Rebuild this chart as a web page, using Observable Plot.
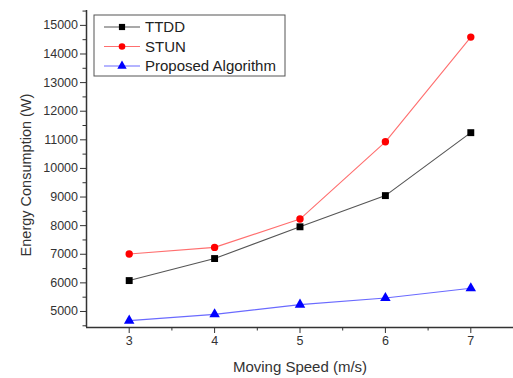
<!DOCTYPE html>
<html><head><meta charset="utf-8">
<script src="https://cdn.jsdelivr.net/npm/d3@7"></script>
<script src="https://cdn.jsdelivr.net/npm/@observablehq/plot@0.6"></script>
<style>
body{margin:0;background:#fff;}
#chart svg{font-family:"Liberation Sans",Arial,sans-serif;}
</style></head>
<body><div id="chart"></div>
<script>
const speeds = [3, 4, 5, 6, 7];
const ttdd = [6080, 6850, 7960, 9050, 11250];
const stun = [7010, 7240, 8230, 10930, 14590];
const proposed = [4680, 4900, 5240, 5470, 5810];
const seriesNames = ["TTDD", "STUN", "Proposed Algorithm"];
const yMajor = [5000, 6000, 7000, 8000, 9000, 10000, 11000, 12000, 13000, 14000, 15000];
const yMinor = [4500, 5500, 6500, 7500, 8500, 9500, 10500, 11500, 12500, 13500, 14500, 15500];
const xMajor = [3, 4, 5, 6, 7];
const xMinor = [3.5, 4.5, 5.5, 6.5, 7.5];
const xLabel = "Moving Speed (m/s)";
const yLabel = "Energy Consumption (W)";

const styles = [
  {line: "#555", fill: "#000", symbol: "square", r: 3.9},
  {line: "#ff6f6f", fill: "#ff0000", symbol: "circle", r: 3.7},
  {line: "#6a6aff", fill: "#0000ff", symbol: "triangle", r: 3.9}
];
const values = [ttdd, stun, proposed];
const data = [];
values.forEach((arr, i) => arr.forEach((v, j) => data.push({series: seriesNames[i], x: speeds[j], y: v})));

const marks = [
  Plot.axisX({ticks: xMajor, tickSize: 6, tickPadding: 3, fontSize: 12.5, label: null, color: "#333", tickFormat: d => String(d)}),
  Plot.axisX({ticks: xMinor, tickSize: 3.5, tickFormat: () => "", label: null, color: "#333"}),
  Plot.axisY({ticks: yMajor, tickSize: 6, tickPadding: 2.5, fontSize: 12.5, label: null, color: "#333", tickFormat: d => String(d)}),
  Plot.axisY({ticks: yMinor, tickSize: 3.5, tickFormat: () => "", label: null, color: "#333"}),
  Plot.ruleX([2.5], {stroke: "#333", strokeWidth: 1.5}),
  Plot.ruleY([4440], {stroke: "#333", strokeWidth: 1.5})
];
seriesNames.forEach((name, i) => {
  const d = data.filter(o => o.series === name);
  marks.push(Plot.line(d, {x: "x", y: "y", stroke: styles[i].line, strokeWidth: 1.1}));
  marks.push(Plot.dot(d, {x: "x", y: "y", symbol: () => styles[i].symbol, fill: styles[i].fill, stroke: "none", r: styles[i].r}));
});

const chart = Plot.plot({
  width: 513, height: 378,
  marginLeft: 86, marginRight: 0, marginTop: 10, marginBottom: 51,
  x: {domain: [2.5, 7.5]},
  y: {domain: [4440, 15520]},
  symbol: {domain: ["square", "circle", "triangle"], range: ["square", "circle", "triangle"]},
  style: {fontFamily: "Liberation Sans, Arial, sans-serif", background: "#fff"},
  marks
});
document.getElementById("chart").appendChild(chart);

const svg = d3.select(chart);
svg.append("text").attr("x", 300).attr("y", 372).attr("text-anchor", "middle")
  .attr("font-size", 15).attr("fill", "#333").text(xLabel);
svg.append("text").attr("transform", "translate(31,175) rotate(-90)").attr("text-anchor", "middle")
  .attr("font-size", 14.5).attr("fill", "#333").text(yLabel);

const lg = svg.append("g");
lg.append("rect").attr("x", 94).attr("y", 15).attr("width", 191).attr("height", 61)
  .attr("fill", "#fff").attr("stroke", "#555").attr("stroke-width", 1);
const sym = {square: d3.symbolSquare, circle: d3.symbolCircle, triangle: d3.symbolTriangle};
seriesNames.forEach((name, i) => {
  const y = 27 + i * 19.5;
  lg.append("line").attr("x1", 104).attr("x2", 140).attr("y1", y).attr("y2", y)
    .attr("stroke", styles[i].line).attr("stroke-width", 1.1);
  lg.append("path").attr("transform", `translate(122,${y})`)
    .attr("d", d3.symbol(sym[styles[i].symbol], Math.PI * styles[i].r * styles[i].r * 0.8)())
    .attr("fill", styles[i].fill);
  lg.append("text").attr("x", 145).attr("y", y).attr("dy", "0.35em").attr("text-anchor", "start")
    .attr("font-size", 15).attr("fill", "#222").text(name);
});
</script></body></html>
